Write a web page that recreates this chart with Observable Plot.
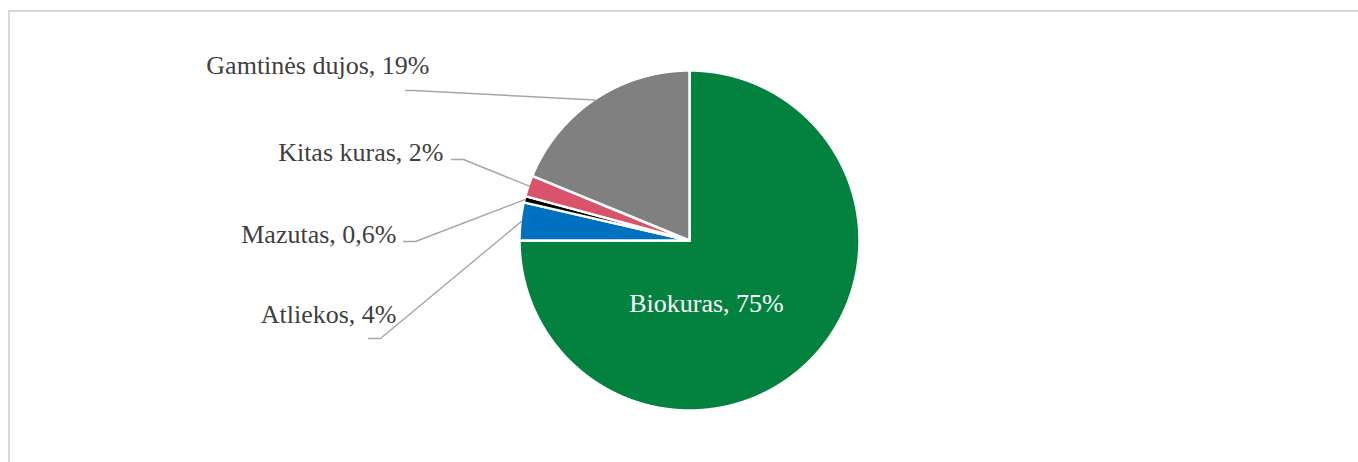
<!DOCTYPE html>
<html><head><meta charset="utf-8">
<script src="https://cdn.jsdelivr.net/npm/d3@7"></script>
<script src="https://cdn.jsdelivr.net/npm/@observablehq/plot@0.6"></script>
<style>
html,body{margin:0;padding:0;background:#fff;overflow:hidden;width:1358px;height:462px;}
#frame{position:absolute;left:8px;top:10px;width:1400px;height:500px;border-left:2px solid #d9d9d9;border-top:2px solid #d9d9d9;}
#chart{position:absolute;left:0;top:0;}
</style></head><body>
<div id="frame"></div><div id="chart"></div>
<script>
// Data (clockwise from 12 o'clock)
const categories = ["Biokuras", "Atliekos", "Mazutas", "Kitas kuras", "Gamtinės dujos"];
const values = [75, 3.6, 0.6, 2.0, 18.8];
const labels = ["Biokuras, 75%", "Atliekos, 4%", "Mazutas, 0,6%", "Kitas kuras, 2%", "Gamtinės dujos, 19%"];
const colors = ["#03823f", "#0070c0", "#000000", "#d9536b", "#808080"];

// Layout
const W = 1358, H = 462, CX = 689, CY = 240, R = 170;
const X = px => (px - CX) / R, Y = py => (CY - py) / R;

const arcs = d3.pie().sort(null).value(d => d)(values);

const slicePts = [];
arcs.forEach((a, i) => {
  slicePts.push({k: i, x: 0, y: 0});
  const n = Math.max(2, Math.ceil((a.endAngle - a.startAngle) / 0.004));
  for (let j = 0; j <= n; j++) {
    const t = a.startAngle + (a.endAngle - a.startAngle) * j / n;
    slicePts.push({k: i, x: Math.sin(t), y: Math.cos(t)});
  }
});

// label placement (pixels): right edge x, baseline, leader bend points
const layout = {
  1: {x: 396, base: 322, bend: [[368, 338], [380, 338]]},
  2: {x: 396, base: 242, bend: [[403, 241], [415, 241]]},
  3: {x: 443, base: 160, bend: [[451, 159], [463, 159]]},
  4: {x: 429, base: 73,  bend: [[405, 90], [413, 90]]}
};

const leaderPts = [];
const outLabels = [];
for (const k of [1, 2, 3, 4]) {
  const L = layout[k];
  L.bend.forEach(([px, py]) => leaderPts.push({k, x: X(px), y: Y(py)}));
  const a = arcs[k], m = (a.startAngle + a.endAngle) / 2;
  leaderPts.push({k, x: Math.sin(m) * 0.995, y: Math.cos(m) * 0.995});
  outLabels.push({k, text: labels[k], x: X(L.x), y: Y(L.base - 8.3)});
}
const inLabels = [{k: 0, text: labels[0], x: X(706), y: Y(311 - 8.3)}];

const chart = Plot.plot({
  width: W, height: H,
  margin: 0,
  x: {domain: [X(0), X(W)], range: [0, W], axis: null},
  y: {domain: [Y(H), Y(0)], range: [H, 0], axis: null},
  color: {type: "identity"},
  style: {background: "transparent", fontFamily: "'Liberation Serif', 'Times New Roman', serif"},
  marks: [
    Plot.line(slicePts, {x: "x", y: "y", z: "k", fill: d => colors[d.k], stroke: "white", strokeWidth: 2.5, curve: "linear-closed"}),
    Plot.line(leaderPts, {x: "x", y: "y", z: "k", stroke: "#a6a6a6", strokeWidth: 1.4}),
    Plot.text(outLabels, {x: "x", y: "y", text: "text", textAnchor: "end", fill: "#404040", fontSize: 26, fontFamily: "'Liberation Serif', serif"}),
    Plot.text(inLabels, {x: "x", y: "y", text: "text", textAnchor: "middle", fill: "white", fontSize: 26, fontFamily: "'Liberation Serif', serif"})
  ]
});
document.getElementById("chart").appendChild(chart);
</script>
</body></html>
